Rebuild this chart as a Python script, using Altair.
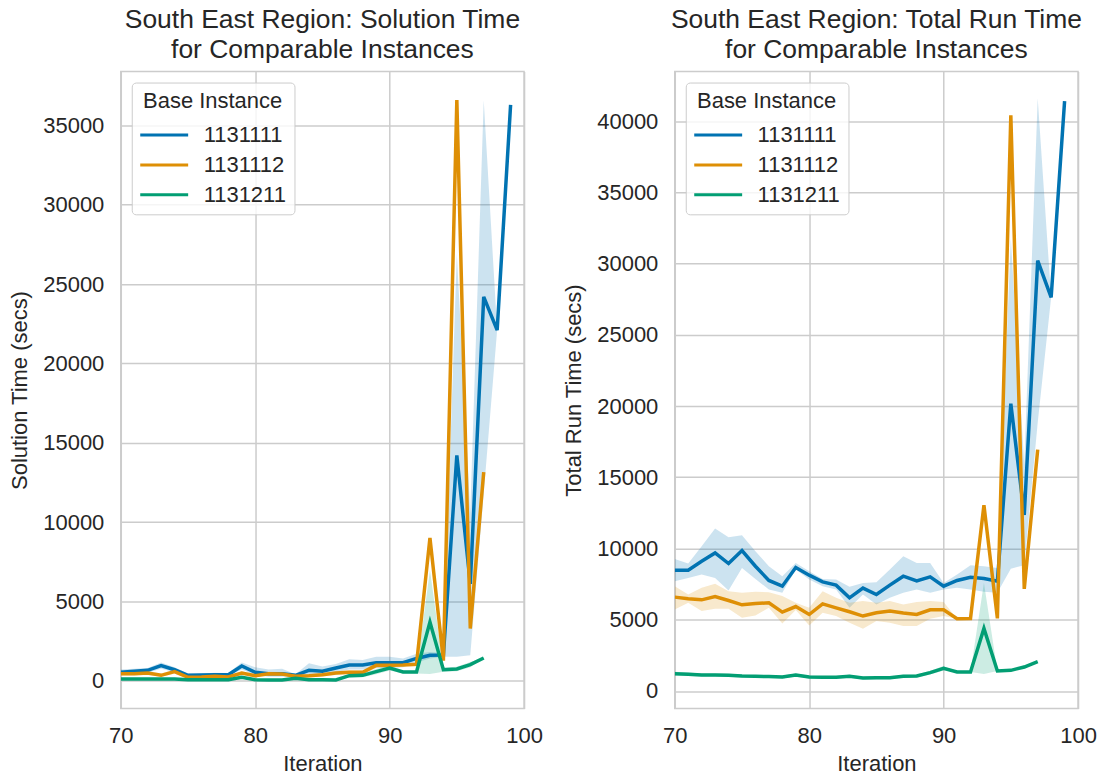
import altair as alt
import pandas as pd

# Instances and their colours
instances = ["1131111", "1131112", "1131211"]
colors = ["#0173b2", "#de8f05", "#029e73"]

iter_long = [70, 71, 72, 73, 74, 75, 76, 77, 78, 79, 80, 81, 82, 83, 84,
             85, 86, 87, 88, 89, 90, 91, 92, 93, 94, 95, 96, 97, 98, 99]
iter_short = iter_long[:28]

# ---- Solution time (secs): mean and 95% CI bounds ----
sol_1131111 = [525, 590, 650, 945, 690, 336, 357, 378, 378, 924, 525, 440, 440, 336, 650,
               590, 800, 990, 990, 1130, 1130, 1130, 1400, 1600, 1620, 14200, 6100, 24200, 22100, 36300]
sol_1131111_lo = [400, 450, 500, 750, 550, 250, 280, 280, 280, 700, 350, 250, 250, 250, 300,
                  350, 550, 700, 700, 800, 800, 850, 1150, 1400, 1500, 1500, 1600, 11800, 22100, 36300]
sol_1131111_hi = [700, 750, 800, 1150, 850, 450, 450, 500, 480, 1150, 850, 700, 750, 400, 1100,
                  900, 1050, 1350, 1300, 1500, 1500, 1400, 1700, 1800, 1750, 26900, 10600, 36600, 22100, 36300]

sol_1131112 = [440, 440, 480, 336, 567, 210, 230, 273, 230, 480, 315, 440, 420, 273, 315,
               378, 480, 525, 525, 966, 966, 987, 1030, 9000, 1260, 36600, 3290, 13150]
sol_1131112_lo = [330, 340, 360, 240, 440, 130, 140, 180, 150, 360, 220, 330, 310, 190, 220,
                  270, 360, 400, 410, 800, 820, 987, 1030, 9000, 1260, 36600, 3290, 13150]
sol_1131112_hi = [560, 550, 600, 450, 700, 300, 330, 380, 330, 600, 420, 560, 540, 370, 420,
                  490, 600, 660, 650, 1130, 1120, 987, 1030, 9000, 1260, 36600, 3290, 13150]

sol_1131211 = [105, 105, 105, 105, 105, 63, 63, 63, 63, 210, 63, 42, 42, 147, 63,
               63, 42, 315, 336, 567, 800, 546, 546, 3700, 693, 735, 1010, 1430]
sol_1131211_lo = [40, 40, 40, 40, 40, 10, 10, 10, 10, 120, 10, 0, 0, 80, 10,
                  10, 0, 200, 220, 400, 640, 450, 450, 420, 560, 600, 850, 1430]
sol_1131211_hi = [170, 170, 170, 170, 170, 120, 120, 120, 120, 300, 120, 90, 90, 210, 120,
                  120, 90, 430, 450, 730, 960, 640, 640, 6980, 830, 870, 1170, 1430]

# ---- Total run time (secs): mean and 95% CI bounds ----
tot_1131111 = [8480, 8480, 9110, 9690, 8950, 9860, 8760, 7760, 7360, 8670, 8130, 7660, 7430, 6540, 7220,
               6770, 7430, 8060, 7730, 8010, 7360, 7760, 7990, 7900, 7710, 20170, 12360, 30220, 27640, 41420]
tot_1131111_lo = [7710, 7940, 8180, 7940, 7050, 8640, 7870, 7120, 6890, 8530, 7830, 7360, 7120, 5840, 6770,
                  6070, 6540, 6890, 7120, 6890, 7120, 7240, 7120, 6960, 6890, 8590, 8830, 18830, 27640, 41420]
tot_1131111_hi = [9270, 8950, 10160, 11400, 10790, 10930, 9810, 8760, 8060, 8990, 8410, 7870, 7830, 7310, 7590,
                  7640, 8530, 9460, 8990, 8990, 7590, 8180, 8830, 8760, 8640, 31750, 15890, 41610, 27640, 41420]

tot_1131112 = [6590, 6470, 6400, 6630, 6350, 6050, 6140, 6190, 5540, 5930, 5370, 6120, 5840, 5560, 5260,
               5490, 5610, 5470, 5370, 5700, 5700, 5070, 5090, 13050, 5100, 40420, 7170, 16950]
tot_1131112_lo = [5720, 6190, 5610, 5770, 5770, 5140, 5300, 5840, 4740, 5680, 4600, 5490, 5260, 4790, 4370,
                  4910, 4790, 4560, 4560, 5070, 5260, 5070, 5090, 13050, 5100, 40420, 7170, 16950]
tot_1131112_hi = [7360, 6770, 7240, 7520, 7010, 6890, 6960, 6940, 6660, 6190, 5840, 7010, 6540, 6190, 6310,
                  6190, 6310, 6070, 6240, 6310, 6240, 5070, 5090, 13050, 5100, 40420, 7170, 16950]

tot_1131211 = [1215, 1170, 1120, 1120, 1100, 1050, 1030, 1010, 980, 1120, 980, 960, 960, 1030, 910,
               930, 930, 1030, 1050, 1285, 1590, 1330, 1330, 4390, 1400, 1450, 1680, 2060]
tot_1131211_lo = [1080, 1050, 1010, 1010, 990, 950, 930, 910, 880, 1010, 880, 860, 860, 920, 810,
                  830, 830, 920, 940, 1150, 1430, 1330, 1330, 1200, 1400, 1450, 1550, 2060]
tot_1131211_hi = [1350, 1290, 1230, 1230, 1210, 1150, 1130, 1110, 1080, 1230, 1080, 1060, 1060, 1140, 1010,
                  1030, 1030, 1140, 1160, 1420, 1750, 1330, 1330, 7600, 1400, 1450, 1810, 2060]


def frame(series):
    rows = []
    for inst, xs, mean, lo, hi in series:
        for x, m, a, b in zip(xs, mean, lo, hi):
            rows.append({"Iteration": x, "Base Instance": inst, "band_of": inst,
                         "value": m, "lo": a, "hi": b})
    return pd.DataFrame(rows)


sol_df = frame([
    ("1131111", iter_long, sol_1131111, sol_1131111_lo, sol_1131111_hi),
    ("1131112", iter_short, sol_1131112, sol_1131112_lo, sol_1131112_hi),
    ("1131211", iter_short, sol_1131211, sol_1131211_lo, sol_1131211_hi),
])
tot_df = frame([
    ("1131111", iter_long, tot_1131111, tot_1131111_lo, tot_1131111_hi),
    ("1131112", iter_short, tot_1131112, tot_1131112_lo, tot_1131112_hi),
    ("1131211", iter_short, tot_1131211, tot_1131211_lo, tot_1131211_hi),
])

x_enc = alt.X("Iteration:Q",
              scale=alt.Scale(domain=[70, 100], nice=False, zero=False),
              axis=alt.Axis(values=[70, 80, 90, 100], title="Iteration", titlePadding=7))

legend = alt.Legend(
    title="Base Instance", orient="top-left", offset=11,
    symbolType="M-1.6,0H1.6", symbolSize=900, symbolStrokeWidth=3,
    symbolOffset=8, labelOffset=23, rowPadding=2, titlePadding=6,
    padding=8, fillColor="rgba(255,255,255,0.8)", strokeColor="#cccccc",
    cornerRadius=4, titleAnchor="middle",
)


def panel(df, title, ytitle, ydomain, yticks):
    y_scale = alt.Scale(domain=ydomain, nice=False, zero=False)
    base = alt.Chart(df)
    # confidence band, coloured from its own field so it keeps no legend of its own
    band = base.mark_area(opacity=0.2, clip=True).encode(
        x=x_enc,
        y=alt.Y("lo:Q", scale=y_scale),
        y2="hi:Q",
        fill=alt.Fill("band_of:N", scale=alt.Scale(range=colors), legend=None),
    )
    line = base.mark_line(strokeWidth=3.5, clip=True).encode(
        x=x_enc,
        y=alt.Y("value:Q", scale=y_scale,
                axis=alt.Axis(values=yticks, format="d", title=ytitle)),
        color=alt.Color("Base Instance:N",
                        scale=alt.Scale(domain=instances, range=colors), legend=legend),
    )
    return alt.layer(band, line).properties(
        width=404, height=638,
        title=alt.Title(title, anchor="middle"),
    )


left = panel(sol_df, ["South East Region: Solution Time", "for Comparable Instances"],
             "Solution Time (secs)", [-1750, 38400],
             [0, 5000, 10000, 15000, 20000, 25000, 30000, 35000])
right = panel(tot_df, ["South East Region: Total Run Time", "for Comparable Instances"],
              "Total Run Time (secs)", [-1225, 43490],
              [0, 5000, 10000, 15000, 20000, 25000, 30000, 35000, 40000])

chart = alt.hconcat(left, right, spacing=18).resolve_scale(
    y="independent", color="independent", fill="independent"
).resolve_legend(color="independent").properties(
    padding={"left": 8, "top": 5, "right": 0, "bottom": 5}
).configure(
    font="Liberation Sans",
    background="white",
).configure_view(
    stroke="#cccccc", strokeWidth=1.5,
).configure_axis(
    labelFontSize=22, titleFontSize=22, labelColor="#262626", titleColor="#262626",
    titleFontWeight="normal", gridColor="#cccccc", gridWidth=1.5,
    domain=False, ticks=False, labelPadding=17, titlePadding=11, labelFlush=False,
).configure_legend(
    labelFontSize=22, titleFontSize=22, labelColor="#262626", titleColor="#262626",
    titleFontWeight="normal",
).configure_title(
    fontSize=26.5, fontWeight="normal", color="#262626", lineHeight=30, offset=8,
)

chart.save("out.html", embed_options={"renderer": "svg", "actions": False})
